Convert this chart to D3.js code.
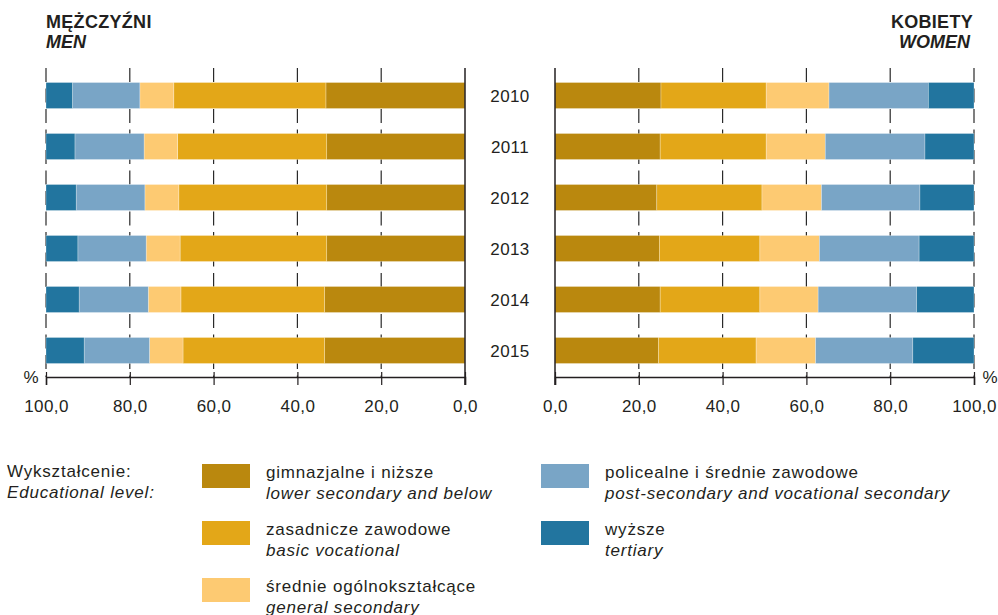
<!DOCTYPE html>
<html>
<head>
<meta charset="utf-8">
<script src="https://cdn.jsdelivr.net/npm/d3@7"></script>
<style>
  body { margin: 0; background: #fff; }
  svg { font-family: "Liberation Sans", Arial, sans-serif; fill: #231f20; }
</style>
</head>
<body>
<div id="chart"></div>
<script>
const years = ["2010", "2011", "2012", "2013", "2014", "2015"];

// men, % by educational level
const menLower    = [33.2, 33.0, 33.0, 33.0, 33.5, 33.5];
const menBasic    = [36.3, 35.6, 35.3, 35.0, 34.3, 33.8];
const menGeneral  = [8.1, 8.0, 8.1, 8.1, 7.8, 8.0];
const menPost     = [16.1, 16.5, 16.4, 16.3, 16.5, 15.6];
const menTertiary = [6.3, 6.9, 7.2, 7.6, 7.9, 9.1];

// women
const womenLower    = [25.3, 25.1, 24.3, 24.9, 25.1, 24.7];
const womenBasic    = [25.1, 25.3, 25.1, 24.0, 23.8, 23.3];
const womenGeneral  = [15.0, 14.1, 14.2, 14.2, 13.9, 14.2];
const womenPost     = [23.7, 23.8, 23.5, 23.8, 23.5, 23.2];
const womenTertiary = [10.9, 11.7, 12.9, 13.1, 13.7, 14.6];

const xTicks = [0, 20, 40, 60, 80, 100];

const levels = ["lower", "basic", "general", "post", "tertiary"];
const levelNamesPl = ["gimnazjalne i niższe", "zasadnicze zawodowe", "średnie ogólnokształcące",
                      "policealne i średnie zawodowe", "wyższe"];
const levelNamesEn = ["lower secondary and below", "basic vocational", "general secondary",
                      "post-secondary and vocational secondary", "tertiary"];

const color = d3.scaleOrdinal()
    .domain(levels)
    .range(["#ba880e", "#e3a718", "#fdca72", "#79a5c6", "#22759f"]);

const W = 998, H = 615;
const svg = d3.select("#chart").append("svg")
    .attr("width", W)
    .attr("height", H);

const y = d3.scaleBand()
    .domain(years)
    .range([69.5, 376.5])
    .paddingInner(0.49)
    .paddingOuter(0.255);

const axisY = 377;
const gridTop = 68;

const fmt = d => d3.format(".1f")(d).replace(".", ",");

function rows(lower, basic, general, post, tertiary) {
    return years.map((yr, i) => ({
        year: yr, lower: lower[i], basic: basic[i], general: general[i],
        post: post[i], tertiary: tertiary[i]
    }));
}

function drawPanel(data, x) {
    const g = svg.append("g");

    //dashed grid lines
    g.append("g")
        .selectAll("line")
        .data(xTicks.filter(t => t !== 0))
        .join("line")
        .attr("x1", d => x(d)).attr("x2", d => x(d))
        .attr("y1", gridTop).attr("y2", axisY)
        .attr("stroke", "#2a2a2a")
        .attr("stroke-width", 1.2)
        .attr("stroke-dasharray", "14,6.5");

    const stacked = d3.stack().keys(levels)(data);

    g.append("g")
        .selectAll("g")
        .data(stacked)
        .join("g")
        .attr("fill", s => color(s.key))
        .selectAll("rect")
        .data(s => s)
        .join("rect")
        .attr("x", d => Math.min(x(d[0]), x(d[1])))
        .attr("width", d => Math.abs(x(d[1]) - x(d[0])))
        .attr("y", d => y(d.data.year))
        .attr("height", y.bandwidth())
        .attr("stroke", "#fff")
        .attr("stroke-width", 0.6)
        .attr("stroke-opacity", 0.45);

    //solid line at zero
    g.append("line")
        .attr("x1", x(0)).attr("x2", x(0))
        .attr("y1", gridTop).attr("y2", axisY + 8)
        .attr("stroke", "#231f20")
        .attr("stroke-width", 1.5);

    //bottom axis
    const axis = g.append("g")
        .attr("transform", `translate(0,${axisY})`)
        .call(d3.axisBottom(x).tickValues(xTicks).tickFormat(fmt).tickSize(8).tickPadding(15));
    axis.select(".domain").attr("stroke", "#231f20").attr("stroke-width", 1.5);
    axis.selectAll(".tick line").attr("stroke", "#231f20").attr("stroke-width", 1.2).attr("y1", -5);
    axis.selectAll(".tick text")
        .attr("fill", "#231f20")
        .style("font-size", "17px")
        .style("letter-spacing", "0.4px")
        .style("font-family", "Liberation Sans, Arial, sans-serif");
}

const xMen = d3.scaleLinear().domain([100, 0]).range([46, 465]);
const xWomen = d3.scaleLinear().domain([0, 100]).range([555, 974]);

drawPanel(rows(menLower, menBasic, menGeneral, menPost, menTertiary), xMen);
drawPanel(rows(womenLower, womenBasic, womenGeneral, womenPost, womenTertiary), xWomen);

//year labels in the middle
svg.append("g")
    .selectAll("text")
    .data(years)
    .join("text")
    .attr("x", 510)
    .attr("y", d => y(d) + y.bandwidth() / 2)
    .attr("dy", "0.36em")
    .attr("text-anchor", "middle")
    .style("font-size", "17px")
    .style("letter-spacing", "0.4px")
    .text(d => d);

// % signs
svg.append("text").attr("x", 31).attr("y", 383).attr("text-anchor", "middle")
    .style("font-size", "17px").text("%");
svg.append("text").attr("x", 990).attr("y", 383).attr("text-anchor", "middle")
    .style("font-size", "17px").text("%");

//titles
svg.append("text").attr("x", 46).attr("y", 28)
    .style("font-size", "18px").style("font-weight", "bold").style("letter-spacing", "0.3px")
    .text("MĘŻCZYŹNI");
svg.append("text").attr("x", 46).attr("y", 48)
    .style("font-size", "18px").style("font-weight", "bold").style("font-style", "italic")
    .text("MEN");
svg.append("text").attr("x", 973).attr("y", 28).attr("text-anchor", "end")
    .style("font-size", "18px").style("font-weight", "bold").style("letter-spacing", "0.3px")
    .text("KOBIETY");
svg.append("text").attr("x", 970).attr("y", 48).attr("text-anchor", "end")
    .style("font-size", "18px").style("font-weight", "bold").style("font-style", "italic")
    .text("WOMEN");

//legend
const legend = svg.append("g").style("font-size", "17px").style("letter-spacing", "0.8px");
legend.append("text").attr("x", 7).attr("y", 477).text("Wykształcenie:");
legend.append("text").attr("x", 7).attr("y", 497.5).style("font-style", "italic").text("Educational level:");

const legendPos = [
    { col: 0, row: 0 }, { col: 0, row: 1 }, { col: 0, row: 2 },
    { col: 1, row: 0 }, { col: 1, row: 1 }
];
const colX = [202, 541];
const rowY = [464, 521, 578];

const items = legend.selectAll("g.item")
    .data(levels)
    .join("g")
    .attr("class", "item")
    .attr("transform", (d, i) => `translate(${colX[legendPos[i].col]},${rowY[legendPos[i].row]})`);

items.append("rect")
    .attr("width", 48).attr("height", 24)
    .attr("fill", d => color(d));
items.append("text")
    .attr("x", 64).attr("y", 14)
    .text((d, i) => levelNamesPl[i]);
items.append("text")
    .attr("x", 64).attr("y", 34.5)
    .style("font-style", "italic")
    .text((d, i) => levelNamesEn[i]);
</script>
</body>
</html>
